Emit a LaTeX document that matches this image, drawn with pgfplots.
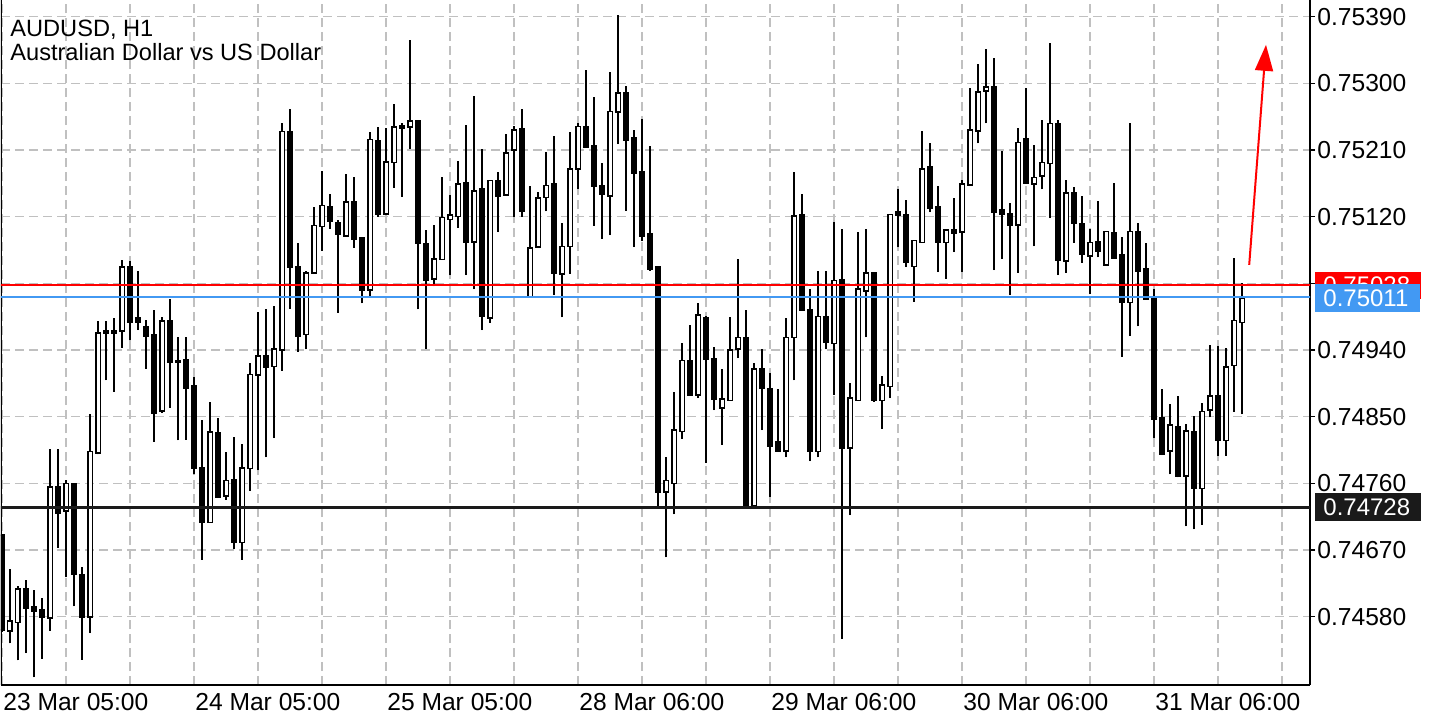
\documentclass[border=0pt]{standalone}
\usepackage{pgfplots}
\pgfplotsset{compat=1.18}
\usepackage{pgfplotstable}
\usepackage{fontspec}
\setmainfont{Liberation Sans}
\usetikzlibrary{arrows.meta}

\definecolor{gridgray}{RGB}{192,192,192}
\definecolor{askred}{RGB}{255,0,0}
\definecolor{bidblue}{RGB}{66,153,243}
\definecolor{levelblack}{RGB}{26,26,26}

% AUDUSD H1 candles, prices in points above 0.74000 (1010 = 0.75010)
\pgfplotstableread{
i o h l c
0 690 692 560 562
1 561 644 544 574
2 572 621 521 617
3 617 630 531 591
4 593 616 498 587
5 589 605 523 579
6 578 807 561 755
7 755 807 673 720
8 723 765 633 760
9 760 760 594 637
10 637 647 522 579
11 580 854 558 803
12 801 979 799 963
13 966 979 899 963
14 966 983 884 963
15 966 1062 943 1052
16 1053 1060 953 977
17 983 1047 967 977
18 971 981 915 958
19 960 994 816 855
20 858 984 855 979
21 979 1009 862 923
22 925 957 818 923
23 927 958 819 889
24 892 903 772 781
25 781 846 657 707
26 707 870 707 829
27 828 848 741 741
28 743 802 738 764
29 765 822 671 680
30 680 813 657 781
31 780 922 750 907
32 906 992 778 932
33 932 995 795 917
34 918 999 821 941
35 940 1247 912 1235
36 1234 1265 996 1052
37 1052 1085 938 959
38 961 1047 941 1044
39 1044 1133 1044 1108
40 1107 1182 1074 1135
41 1133 1150 1104 1114
42 1112 1116 990 1097
43 1094 1177 1094 1140
44 1140 1173 1078 1090
45 1092 1092 1003 1021
46 1021 1234 1012 1224
47 1223 1241 1120 1124
48 1124 1240 1124 1194
49 1193 1272 1159 1241
50 1243 1247 1147 1239
51 1241 1359 1212 1249
52 1250 1250 995 1084
53 1084 1102 942 1034
54 1036 1109 1026 1063
55 1062 1173 1062 1119
56 1116 1149 1041 1122
57 1120 1195 1105 1164
58 1166 1244 1041 1085
59 1086 1283 1022 1155
60 1157 1211 967 985
61 983 1169 977 1169
62 1169 1180 1099 1147
63 1149 1232 1149 1206
64 1210 1242 1120 1237
65 1238 1265 1120 1128
66 1011 1161 1011 1078
67 1079 1153 1079 1145
68 1146 1207 1127 1162
69 1164 1229 1014 1044
70 1043 1112 984 1080
71 1080 1234 1043 1184
72 1184 1247 1158 1242
73 1242 1318 1214 1214
74 1216 1281 1108 1161
75 1162 1193 1090 1150
76 1148 1315 1095 1262
77 1261 1392 1218 1287
78 1287 1296 1128 1223
79 1227 1237 1079 1179
80 1180 1252 1087 1094
81 1097 1216 1047 1049
82 1052 1054 728 748
83 748 796 660 764
84 760 883 718 832
85 830 949 820 926
86 926 974 879 879
87 879 1003 875 987
88 984 986 788 927
89 928 944 859 874
90 862 914 812 874
91 872 985 872 940
92 941 1063 929 957
93 957 994 730 730
94 730 922 730 914
95 914 941 832 889
96 887 909 742 810
97 816 887 803 803
98 804 983 795 957
99 957 1180 899 1121
100 1123 1151 994 994
101 994 1023 790 803
102 803 1047 795 985
103 985 1047 941 950
104 949 1113 879 1034
105 1035 1103 550 808
106 808 895 717 875
107 872 1099 872 1022
108 1020 1103 957 1044
109 1044 1044 870 872
110 872 905 834 893
111 891 1124 875 1123
112 1126 1157 1079 1122
113 1122 1143 1052 1058
114 1053 1088 1005 1088
115 1085 1235 1085 1184
116 1187 1219 1126 1131
117 1133 1162 1045 1085
118 1085 1102 1036 1102
119 1102 1145 1072 1098
120 1099 1169 1046 1164
121 1163 1294 1163 1237
122 1236 1326 1219 1288
123 1290 1346 1246 1295
124 1295 1334 1048 1126
125 1129 1208 1063 1123
126 1124 1139 1014 1108
127 1109 1240 1044 1220
128 1225 1294 1165 1165
129 1164 1217 1080 1173
130 1175 1250 1157 1193
131 1192 1354 1118 1246
132 1246 1250 1041 1061
133 1060 1170 1044 1152
134 1152 1160 1085 1111
135 1111 1148 1058 1069
136 1067 1103 1015 1085
137 1086 1141 1065 1073
138 1055 1100 1055 1100
139 1098 1166 1064 1064
140 1068 1092 931 1004
141 1004 1246 959 1100
142 1099 1111 972 1047
143 1049 1084 1008 1008
144 1010 1023 821 846
145 848 887 798 800
146 804 867 772 839
147 837 878 768 769
148 770 840 702 831
149 830 851 698 753
150 753 868 704 857
151 859 947 849 878
152 878 945 797 818
153 818 943 797 917
154 919 1064 857 980
155 977 1030 853 1010
}\candles

\pgfplotsset{
  chartframe/.style={
    at={(0.5pt,17.5pt)}, anchor=south west,
    scale only axis, width=654.5pt, height=342.5pt,
    xmin=-0.125, xmax=163.5, ymin=487.8, ymax=1412.5,
  },
}

\begin{document}
\begin{tikzpicture}
\useasboundingbox (0,0) rectangle (720pt,360pt);

% grid, frame, labels and wicks
\begin{axis}[chartframe,
  axis x line*=bottom, axis y line*=right,
  axis line style={black, line width=1pt},
  xtick={0,8,...,160},
  xticklabels={{23 Mar 05:00},,,{24 Mar 05:00},,,{25 Mar 05:00},,,{28 Mar 06:00},,,{29 Mar 06:00},,,{30 Mar 06:00},,,{31 Mar 06:00},,},
  ytick={580,670,760,850,940,1030,1120,1210,1300,1390},
  yticklabels={0.74580,0.74670,0.74760,0.74850,0.74940,,0.75120,0.75210,0.75300,0.75390},
  tick align=outside, major tick length=2.5pt,
  xtick style={draw=none},
  ytick style={black, line width=0.6pt},
  grid=major,
  major grid style={gridgray, line width=0.6pt, dash pattern=on 4.5pt off 2.5pt},
  ticklabel style={font=\fontsize{12.3}{14}\selectfont, inner sep=0pt},
  yticklabel style={anchor=west, xshift=1pt},
  xticklabel style={anchor=north west, yshift=-1.5pt, xshift=0.5pt},
]
\addplot[only marks, mark=*, mark size=0pt, mark options={draw=none, fill=none},
  error bars/.cd, y dir=plus, y explicit, error mark=none,
  error bar style={draw=black, line width=0.85pt}]
  table[x=i, y=l, y error expr=\thisrow{h}-\thisrow{l}] {\candles};
\draw[black, line width=1pt] (rel axis cs:0,0) -- (rel axis cs:0,1);
\end{axis}

% candle bodies
\begin{axis}[chartframe, hide axis, ybar stacked, bar width=2.3pt]
\addplot[draw=none, fill=none] table[x=i, y expr={min(\thisrow{o},\thisrow{c})}] {\candles};
\addplot[draw=black, fill=white, line width=0.8pt] table[x=i, y expr={max(\thisrow{c}-\thisrow{o},0)}] {\candles};
\addplot[draw=black, fill=black, line width=0.8pt] table[x=i, y expr={max(\thisrow{o}-\thisrow{c},0)}] {\candles};
\end{axis}

% level lines and arrow
\begin{axis}[chartframe, hide axis]
\addplot[askred, line width=1pt] coordinates {(-1,1028) (170,1028)};
\addplot[bidblue, line width=1pt] coordinates {(-1,1011) (170,1011)};
\addplot[levelblack, line width=1.5pt] coordinates {(-1,728) (170,728)};
\addplot[askred, line width=1pt, -{Triangle[length=13pt,width=9pt]}] coordinates {(155.9,1055) (158,1352)};
\end{axis}

% price boxes on the scale (the bid box covers part of the ask box)
\fill[askred] (657.5pt,210.5pt) rectangle (710.5pt,224pt);
\node[anchor=west, inner sep=0pt, text=white, font=\fontsize{12}{14}\selectfont] at (661.5pt,217.2pt) {0.75028};
\fill[bidblue] (657.5pt,204pt) rectangle (710pt,218pt);
\node[anchor=west, inner sep=0pt, text=white, font=\fontsize{12}{14}\selectfont] at (661.5pt,211pt) {0.75011};
\fill[levelblack] (657.5pt,99.5pt) rectangle (710.5pt,113.5pt);
\node[anchor=west, inner sep=0pt, text=white, font=\fontsize{12}{14}\selectfont] at (661.5pt,106.5pt) {0.74728};

% symbol caption
\node[anchor=base west, inner sep=0pt, font=\fontsize{11.8}{14}\selectfont] at (5pt,341.6pt) {AUDUSD, H1};
\node[anchor=base west, inner sep=0pt, font=\fontsize{11.8}{14}\selectfont] at (5pt,330pt) {Australian Dollar vs US Dollar};
\end{tikzpicture}
\end{document}
